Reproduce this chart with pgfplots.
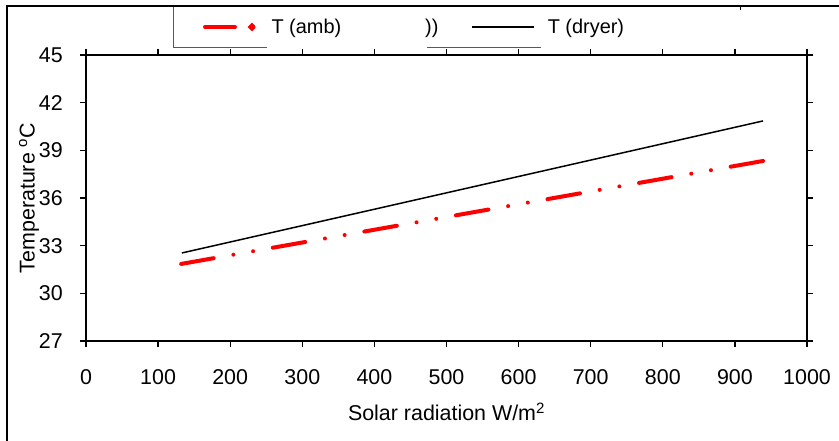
\documentclass[border=0pt]{standalone}
\usepackage{fontspec}
\setmainfont{Liberation Sans}
\usepackage{pgfplots}
\pgfplotsset{compat=1.18}
\newcommand{\cf}{\fontsize{20}{24}\selectfont}
\newcommand{\tf}{\fontsize{21.5}{25}\selectfont}
\begin{document}
\begin{tikzpicture}
\useasboundingbox (0bp,0bp) rectangle (839bp,441bp);
\draw[line width=2bp] (7bp,-10bp) -- (7bp,435bp) -- (850bp,435bp);
\draw[line width=1bp] (740bp,435bp) -- (740bp,431bp);
\draw[gray!70!black, line width=0.8bp] (173bp,434bp) -- (173bp,394bp) -- (267bp,394bp);
\draw[gray!70!black, line width=0.8bp] (427bp,394bp) -- (541bp,394bp);
\node[font=\cf, anchor=west, inner sep=0pt] at (425bp,413bp) {))};
\begin{axis}[
  width=721bp, height=286bp, scale only axis,
  at={(86bp,100bp)}, anchor=south west,
  xmin=0, xmax=1000, ymin=27, ymax=45,
  xtick={0,100,...,1000}, ytick={27,30,...,45},
  tick align=outside, major tick length=6bp,
  tick style={black, line width=1.3bp},
  axis line style={line width=1.5bp},
  /pgf/number format/assume math mode=true,
  /pgf/number format/1000 sep={},
  every tick label/.append style={font=\tf},
  yticklabel style={inner sep=0pt, xshift=-17bp},
  xticklabel style={inner sep=0pt, yshift=-22bp},
  xlabel={Solar radiation W/m\textsuperscript{2}},
  ylabel={Temperature \textsuperscript{o}C},
  xlabel style={font=\tf, at={(axis description cs:0.5,-0.248)}, anchor=center},
  ylabel style={font=\tf, at={(axis description cs:-0.079,0.5)}, anchor=center},
  legend style={draw=none, fill=none, inner sep=0pt, outer sep=0pt,
    at={(rel axis cs:0.1623,1.098)}, anchor=west, legend columns=2,
    nodes={inner sep=0pt, font=\cf},
    /tikz/column 1/.style={column sep=16bp},
    /tikz/column 2/.style={column sep=130bp},
    /tikz/column 3/.style={column sep=13bp}},
]
\addplot[red, line width=4bp, line cap=round,
  dash pattern=on 33bp off 20bp on 0bp off 20bp on 0bp off 20bp,
  legend image code/.code={
    \draw[red, line width=4bp, line cap=round] (0bp,0bp) -- (30bp,0bp);
    \fill[red] (47bp,0bp) circle (1.5bp);}]
  coordinates {(132,31.85) (939,38.33)};
\addlegendentry{T (amb)}
\addplot[black, line width=1.5bp,
  legend image code/.code={
    \draw[black, line width=1.5bp] (0bp,0bp) -- (62bp,0bp);}]
  coordinates {(133,32.54) (939,40.85)};
\addlegendentry{T (dryer)}
\end{axis}
\end{tikzpicture}
\end{document}
